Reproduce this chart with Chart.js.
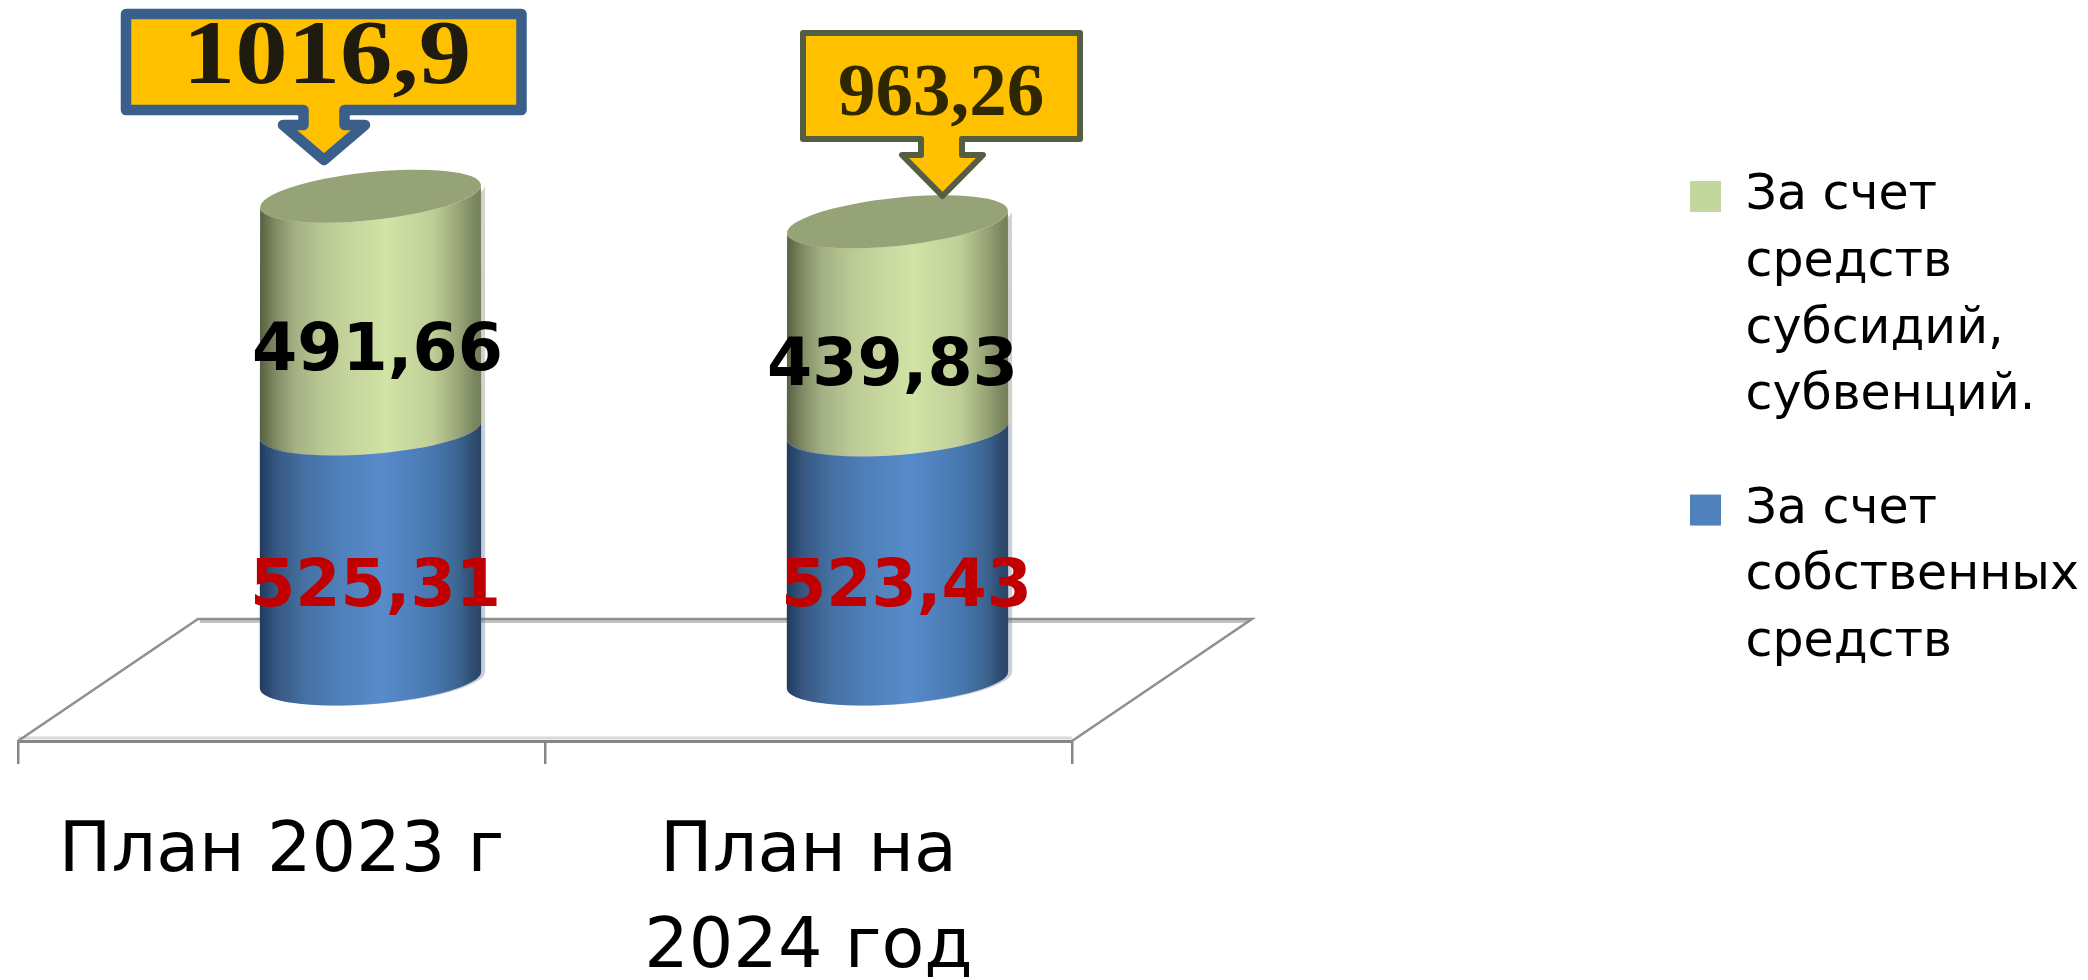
<!DOCTYPE html>
<html><head><meta charset="utf-8">
<style>html,body{margin:0;padding:0;background:#fff}#w{width:2088px;height:980px;position:relative}canvas{display:block}</style>
<script src="https://cdn.jsdelivr.net/npm/chart.js@4"></script>
</head><body><div id="w"><canvas id="c" width="2088" height="980"></canvas></div>
<script>
// ---- data ----
const categories = [['План 2023 г'], ['План на', '2024 год']];
const ownFunds = [525.31, 523.43];
const subsidies = [491.66, 439.83];
const totals = ['1016,9', '963,26'];
const ownFundsLegend = ['За счет', 'собственных', 'средств'];
const subsidiesLegend = ['За счет', 'средств', 'субсидий,', 'субвенций.'];

// ---- style ----
const GREEN = '#C3D69B', BLUE = '#4F81BD';
const SHADES = {
  [GREEN]: [[0,'#565F40'],[.07,'#7F8A63'],[.16,'#A3B083'],[.3,'#BCCB95'],[.57,'#D2E3A6'],[.78,'#BFCF97'],[.9,'#97A476'],[.97,'#7A8660'],[1,'#747F5A']],
  [BLUE]:  [[0,'#1F3A5C'],[.07,'#365680'],[.2,'#4570A2'],[.35,'#4E7FB8'],[.55,'#588BCB'],[.78,'#4878B0'],[.9,'#3C648F'],[.97,'#2D4A6E'],[1,'#2A4568']]
};
const DEPTH_X = 89, DEPTH_Y = -61;          // 3-D shift of the columns on the floor
const RX = 111, RY = 24, CAP_TILT = -6 * Math.PI / 180, RIM_TILT = -4.5 * Math.PI / 180;
const FLOOR_DX = 180, FLOOR_DY = -122;

function cylinderPath(ctx, cx, top, bottom, dx, topTilt) {
  ctx.beginPath();
  ctx.ellipse(cx + dx, top, RX, RY, topTilt, Math.PI, 0, true);       // lower arc of the upper rim, left to right
  ctx.ellipse(cx + dx, bottom, RX, RY, RIM_TILT, 0, Math.PI, false);  // lower arc of the lower rim, right to left
  ctx.closePath();
}

// columns are the library's own bars, drawn as shaded cylinders
Chart.BarElement.prototype.draw = function (ctx) {
  const color = this.options.backgroundColor;
  const cx = this.x + DEPTH_X, top = this.y + DEPTH_Y, bottom = this.base + DEPTH_Y;
  const topTilt = color === GREEN ? CAP_TILT : RIM_TILT;
  ctx.save();
  cylinderPath(ctx, cx, top, bottom, 4, topTilt);
  ctx.fillStyle = color === GREEN ? 'rgba(120,128,110,.35)' : 'rgba(90,110,150,.33)';
  ctx.fill();
  const g = ctx.createLinearGradient(cx - RX, 0, cx + RX, 0);
  SHADES[color].forEach(s => g.addColorStop(s[0], s[1]));
  cylinderPath(ctx, cx, top, bottom, 0, topTilt);
  ctx.fillStyle = g;
  ctx.fill();
  ctx.restore();
};

const fmt = v => v.toFixed(2).replace('.', ',');

const floorPlugin = {
  id: 'floor',
  beforeDatasetsDraw(chart) {
    const { ctx, chartArea: a } = chart;
    const L = a.left, R = a.right, B = a.bottom;
    ctx.save();
    ctx.lineJoin = 'miter';
    ctx.strokeStyle = '#c4c4c4'; ctx.lineWidth = 3;
    ctx.beginPath();
    ctx.moveTo(L + FLOOR_DX + 2, B + FLOOR_DY + 2.5);
    ctx.lineTo(R + FLOOR_DX - 3, B + FLOOR_DY + 2.5);
    ctx.stroke();
    ctx.strokeStyle = '#d9d9d9';
    ctx.beginPath(); ctx.moveTo(L, B - 3); ctx.lineTo(R, B - 3); ctx.stroke();
    ctx.strokeStyle = '#8f8f8f'; ctx.lineWidth = 2.5;
    ctx.beginPath();
    ctx.moveTo(L, B);
    ctx.lineTo(L + FLOOR_DX, B + FLOOR_DY);
    ctx.lineTo(R + FLOOR_DX, B + FLOOR_DY);
    ctx.lineTo(R, B);
    ctx.stroke();
    ctx.restore();
  },
  afterDatasetsDraw(chart) {
    const { ctx } = chart;
    ctx.save();
    chart.getDatasetMeta(1).data.forEach(el => {
      ctx.beginPath();
      ctx.ellipse(el.x + DEPTH_X, el.y + DEPTH_Y, RX, RY, CAP_TILT, 0, Math.PI * 2);
      ctx.fillStyle = '#95A377';
      ctx.fill();
    });
    ctx.restore();
  }
};

const labelPlugin = {
  id: 'valueLabels',
  afterDatasetsDraw(chart) {
    const { ctx } = chart;
    ctx.save();
    ctx.textAlign = 'center';
    ctx.textBaseline = 'alphabetic';
    ctx.font = 'bold 65px "DejaVu Sans"';
    chart.getDatasetMeta(0).data.forEach((el, i) => {
      ctx.fillStyle = '#C00000';
      ctx.fillText(fmt(ownFunds[i]), el.x + [94, 98][i], chart.chartArea.bottom - 135);
    });
    chart.getDatasetMeta(1).data.forEach((el, i) => {
      ctx.fillStyle = '#000000';
      ctx.fillText(fmt(subsidies[i]), el.x + [96, 84][i], el.y + [113, 102][i]);
    });
    ctx.restore();
  }
};

const calloutPlugin = {
  id: 'callouts',
  afterDraw(chart) {
    const { ctx } = chart;
    const els = chart.getDatasetMeta(1).data;
    const shapes = [
      { tipX: els[0].x + 42.5, rect: [126, 14, 521.5, 110], shaft: [303.5, 344.5], headY: 125, head: [283, 365], tipY: 160,
        stroke: '#3A5F8B', lw: 10.5, font: 'bold 90px "Liberation Serif"', color: '#1F1C0F', stretch: 1.165, textX: 327, textY: 83 },
      { tipX: els[1].x + 134, rect: [803, 33, 1080, 139], shaft: [921, 962], headY: 155, head: [902, 983], tipY: 196,
        stroke: '#535E43', lw: 6, font: 'bold 75px "Liberation Serif"', color: '#2E2700', stretch: 1, textX: 941, textY: 115 }
    ];
    shapes.forEach((s, i) => {
      const [x0, y0, x1, y1] = s.rect;
      ctx.save();
      ctx.beginPath();
      ctx.moveTo(x0, y0); ctx.lineTo(x1, y0); ctx.lineTo(x1, y1);
      ctx.lineTo(s.shaft[1], y1); ctx.lineTo(s.shaft[1], s.headY); ctx.lineTo(s.head[1], s.headY);
      ctx.lineTo(s.tipX, s.tipY);
      ctx.lineTo(s.head[0], s.headY); ctx.lineTo(s.shaft[0], s.headY); ctx.lineTo(s.shaft[0], y1);
      ctx.lineTo(x0, y1); ctx.closePath();
      ctx.fillStyle = '#FFC000'; ctx.fill();
      ctx.strokeStyle = s.stroke; ctx.lineWidth = s.lw; ctx.lineJoin = 'round'; ctx.stroke();
      ctx.fillStyle = s.color; ctx.font = s.font;
      ctx.textAlign = 'center'; ctx.textBaseline = 'alphabetic';
      ctx.translate(s.textX, s.textY);
      ctx.scale(s.stretch, 1);
      ctx.fillText(totals[i], 0, 0);
      ctx.restore();
    });
  }
};

const legendPlace = {
  id: 'legendPlace',
  afterLayout(chart) {
    const l = chart.legend;
    const pad = l.options.labels.padding;
    l.left = 1690 - pad; l.right = 2088;
    l.top = 172 - pad; l.bottom = 720;
  }
};

new Chart(document.getElementById('c'), {
  type: 'bar',
  data: {
    labels: categories,
    datasets: [
      { label: 'За счет собственных средств', data: ownFunds, backgroundColor: BLUE, legendLines: ownFundsLegend },
      { label: 'За счет средств субсидий, субвенций.', data: subsidies, backgroundColor: GREEN, legendLines: subsidiesLegend }
    ]
  },
  options: {
    responsive: false,
    animation: false,
    events: [],
    layout: { padding: { left: 18, right: 1016, top: 75, bottom: 0 } },
    datasets: { bar: { categoryPercentage: 1, barPercentage: 0.4213 } },
    scales: {
      x: {
        stacked: true,
        afterFit: s => { s.height = 239; },
        grid: { drawOnChartArea: false, drawTicks: true, tickLength: 23, color: '#868686', lineWidth: 2.5 },
        border: { color: '#868686', width: 3 },
        ticks: { color: '#000', padding: 41, autoSkip: false, maxRotation: 0,
                 font: { family: '"DejaVu Sans"', size: 70, lineHeight: 1.37 } }
      },
      y: { stacked: true, display: false, min: 0, max: 1400 }
    },
    plugins: {
      tooltip: { enabled: false },
      legend: {
        position: 'chartArea',
        align: 'start',
        labels: {
          font: { family: '"DejaVu Sans"', size: 49, lineHeight: 1.36 },
          color: '#000',
          boxWidth: 31, boxHeight: 31, padding: 47,
          generateLabels: chart => chart.data.datasets.map((d, i) => ({
            text: d.legendLines, fillStyle: d.backgroundColor, strokeStyle: d.backgroundColor,
            lineWidth: 0, datasetIndex: i, fontColor: '#000'
          })).reverse()
        }
      }
    }
  },
  plugins: [floorPlugin, labelPlugin, legendPlace, calloutPlugin]
});
</script></body></html>
